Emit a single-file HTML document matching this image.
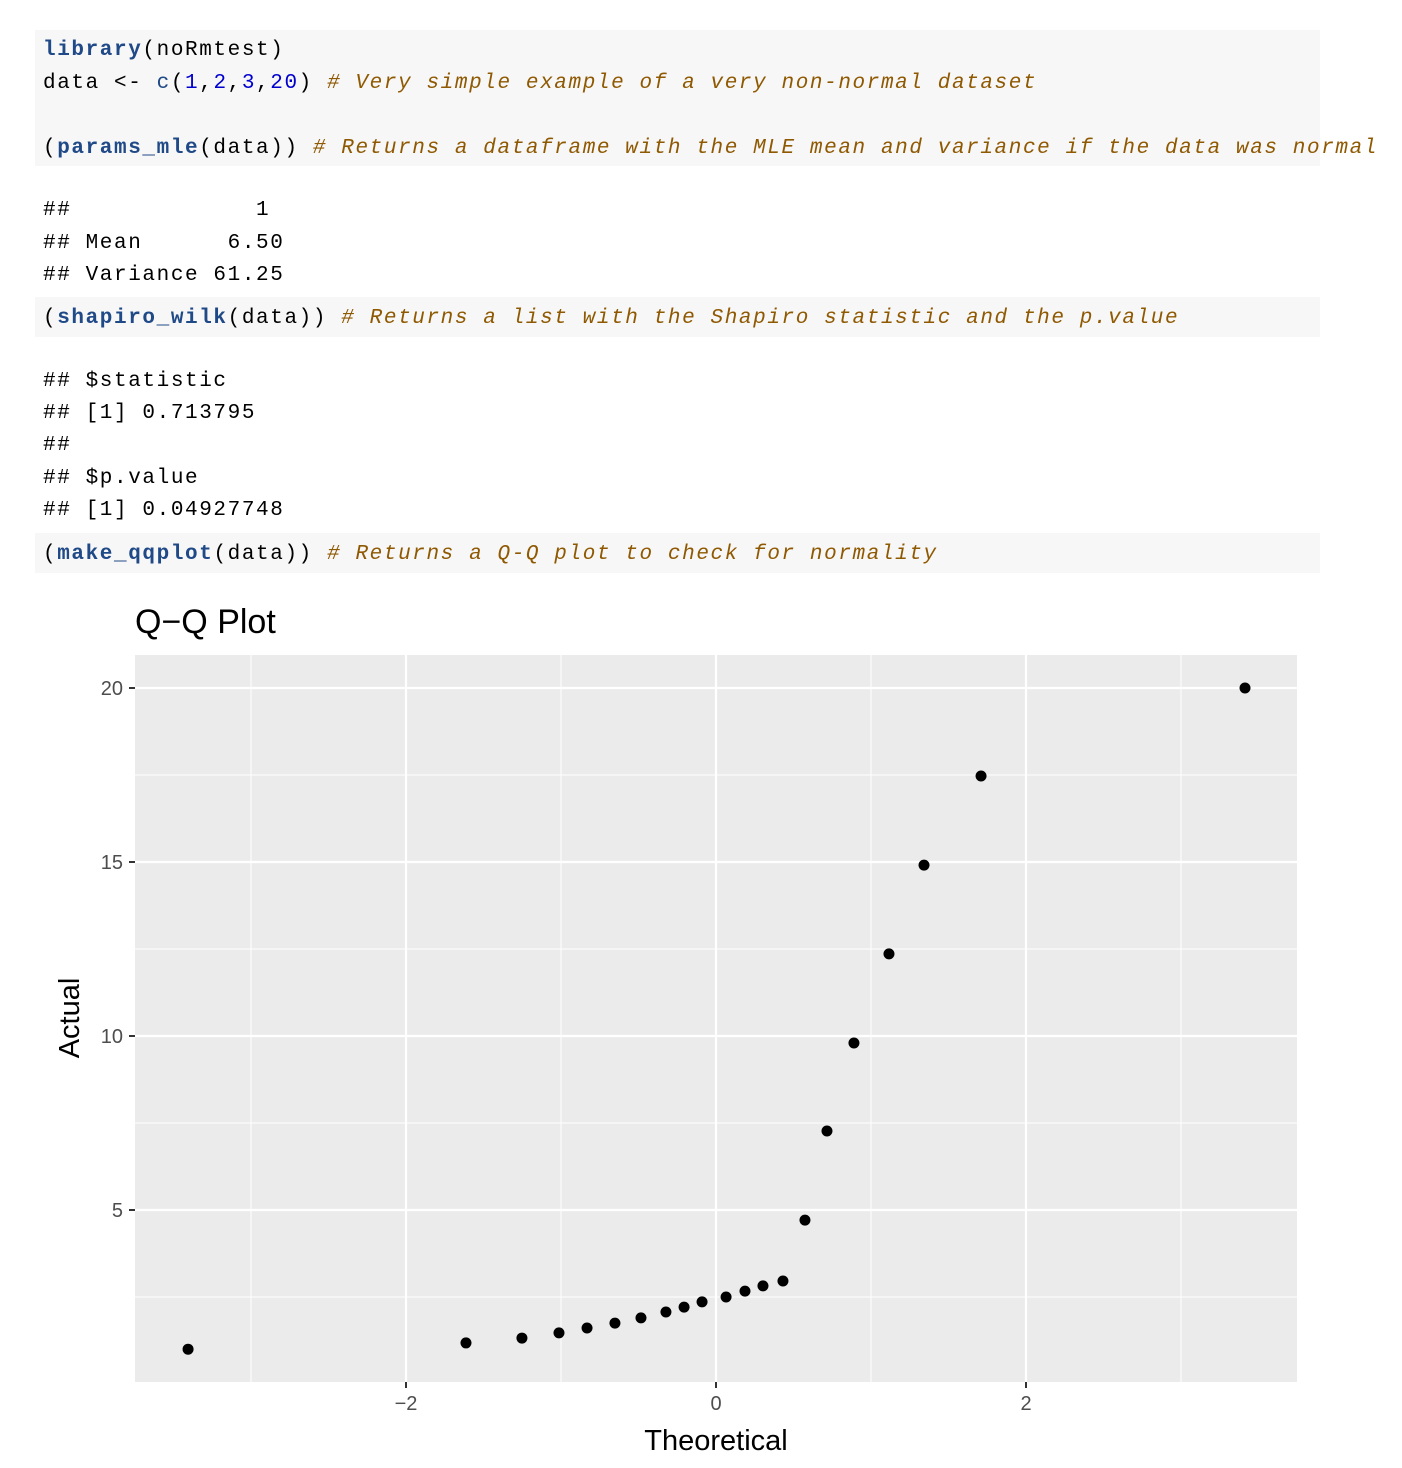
<!DOCTYPE html>
<html><head><meta charset="utf-8"><style>
body{margin:0;width:1402px;height:1468px;background:#fff;position:relative;overflow:hidden}
.blk{position:absolute;left:35px;width:1285px;background:#f7f7f7}
.ln{position:absolute;left:43px;font-family:"Liberation Mono",monospace;font-size:21px;letter-spacing:1.6px;white-space:pre;color:#000;line-height:24px;transform:translateY(-9px)}
.f{color:#204a87;font-weight:bold}.n{color:#0000cf}.c{color:#8f5902;font-style:italic}
</style></head><body>
<div class="blk" style="top:30px;height:136px"></div>
<div class="blk" style="top:297px;height:40px"></div>
<div class="blk" style="top:533px;height:40px"></div>
<div class="ln" style="top:48px"><span class="f">library</span>(noRmtest)</div>
<div class="ln" style="top:81px">data &lt;- <span class="f" style="font-weight:normal">c</span>(<span class="n">1</span>,<span class="n">2</span>,<span class="n">3</span>,<span class="n">20</span>) <span class="c"># Very simple example of a very non-normal dataset</span></div>
<div class="ln" style="top:146px">(<span class="f">params_mle</span>(data)) <span class="c"># Returns a dataframe with the MLE mean and variance if the data was normal</span></div>
<div class="ln" style="top:208px">##             1</div>
<div class="ln" style="top:241px">## Mean      6.50</div>
<div class="ln" style="top:273px">## Variance 61.25</div>
<div class="ln" style="top:316px">(<span class="f">shapiro_wilk</span>(data)) <span class="c"># Returns a list with the Shapiro statistic and the p.value</span></div>
<div class="ln" style="top:379px">## $statistic</div>
<div class="ln" style="top:411px">## [1] 0.713795</div>
<div class="ln" style="top:443px">##</div>
<div class="ln" style="top:476px">## $p.value</div>
<div class="ln" style="top:508px">## [1] 0.04927748</div>
<div class="ln" style="top:552px">(<span class="f">make_qqplot</span>(data)) <span class="c"># Returns a Q-Q plot to check for normality</span></div>
<svg id="chart" width="1402" height="1468" style="position:absolute;left:0;top:0" font-family="Liberation Sans, sans-serif"></svg>
<script>
const theoretical=[-3.406,-1.613,-1.252,-1.013,-0.832,-0.652,-0.484,-0.323,-0.206,-0.090,0.065,0.187,0.303,0.432,0.574,0.716,0.890,1.116,1.342,1.710,3.413];
const actual=[1.0,1.18,1.32,1.47,1.61,1.75,1.90,2.07,2.21,2.36,2.50,2.67,2.82,2.96,4.71,7.27,9.80,12.36,14.91,17.47,20.0];
const xTicks=[-2,0,2];
const yTicks=[5,10,15,20];
const xMinor=[-3,-1,1,3];
const yMinor=[2.5,7.5,12.5,17.5];
const svg=document.getElementById('chart');const NS='http://www.w3.org/2000/svg';
const X=v=>716+v*155, Y=v=>1210-(v-5)*34.8;
const P={l:135,r:1297,t:655,b:1382};
function el(t,a,p){const e=document.createElementNS(NS,t);for(const k in a)e.setAttribute(k,a[k]);(p||svg).appendChild(e);return e;}
const bg=el('rect',{x:P.l,y:P.t,width:P.r-P.l,height:P.b-P.t,fill:'#ebebeb'});


xMinor.forEach(v=>el('line',{x1:X(v),x2:X(v),y1:P.t,y2:P.b,stroke:'#fff','stroke-width':1}));
yMinor.forEach(v=>el('line',{x1:P.l,x2:P.r,y1:Y(v),y2:Y(v),stroke:'#fff','stroke-width':1}));
xTicks.forEach(v=>{el('line',{x1:X(v),x2:X(v),y1:P.t,y2:P.b,stroke:'#fff','stroke-width':2.2});
el('line',{x1:X(v),x2:X(v),y1:P.b,y2:P.b+6,stroke:'#333','stroke-width':2});
const t=el('text',{x:X(v),y:P.b+28,'text-anchor':'middle','font-size':20,fill:'#4d4d4d'});t.textContent=v<0?'\u2212'+(-v):v;

});
yTicks.forEach(v=>{el('line',{x1:P.l,x2:P.r,y1:Y(v),y2:Y(v),stroke:'#fff','stroke-width':2.2});
el('line',{x1:P.l-6,x2:P.l,y1:Y(v),y2:Y(v),stroke:'#333','stroke-width':2});
const t=el('text',{x:P.l-12,y:Y(v)+7,'text-anchor':'end','font-size':20,fill:'#4d4d4d'});t.textContent=v;

});
theoretical.forEach((v,i)=>{const c=el('circle',{cx:X(v),cy:Y(actual[i]),r:5.5,fill:'#000'});

});
const ti=el('text',{x:135,y:633,'font-size':34,fill:'#000'});ti.textContent='Q\u2212Q Plot';


const xt=el('text',{x:716,y:1450,'text-anchor':'middle','font-size':29,fill:'#000'});xt.textContent='Theoretical';


const yt=el('text',{x:0,y:0,'text-anchor':'middle','font-size':29,fill:'#000',transform:'translate(79,1018) rotate(-90)'});yt.textContent='Actual';


</script>
</body></html>
